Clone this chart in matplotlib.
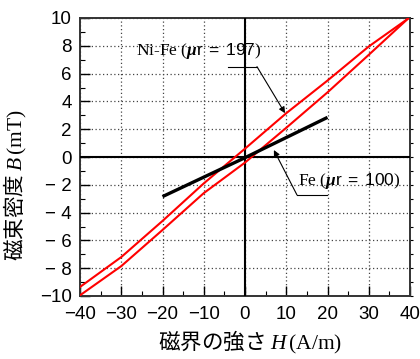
import numpy as np
import matplotlib
matplotlib.use("Agg")
import matplotlib.pyplot as plt
from matplotlib.ticker import MultipleLocator

plt.rcParams.update({
    "font.family": "Liberation Sans",
    "font.size": 13.5,
    "mathtext.fontset": "custom",
    "mathtext.rm": "Liberation Serif",
    "mathtext.it": "Liberation Serif:italic",
    "mathtext.bf": "Liberation Serif:bold",
    "mathtext.bfit": "Liberation Serif:bold:italic",
    "mathtext.sf": "Liberation Sans",
})

# Ni-Fe hysteresis loop: descending and ascending branches
h_down = [39.5, 30, 20, 10, 0, -10, -20, -30, -40]
b_down = [9.95, 7.95, 5.5, 3.15, 0.6, -1.9, -4.6, -7.2, -9.35]
h_up = [-40, -30, -20, -10, 0, 10, 20, 30, 39.5]
b_up = [-9.95, -7.85, -5.25, -2.6, -0.4, 2.1, 4.65, 7.35, 9.95]

# Fe magnetisation line
h_fe = [-20, 0, 20]
b_fe = [-2.85, -0.05, 2.85]

xticks = [-40, -30, -20, -10, 0, 10, 20, 30, 40]
yticks = [-10, -8, -6, -4, -2, 0, 2, 4, 6, 8, 10]


def minus_label(v):
    if v < 0:
        return "\u2212" + (" " if v > -10 else "") + str(-v)
    return str(v)


fig = plt.figure(figsize=(4.2, 3.59), dpi=100)
ax = fig.add_axes([80 / 420, 1 - 296 / 359, 330 / 420, 278 / 359])

ax.plot(h_down, b_down, color="#ff0000", lw=1.5, zorder=4)
ax.plot(h_up, b_up, color="#ff0000", lw=1.5, zorder=4)
ax.plot(h_fe, b_fe, color="black", lw=2.4, solid_capstyle="butt", zorder=5)

ax.axhline(0, color="black", lw=1.5, zorder=3)
ax.axvline(0, color="black", lw=1.5, zorder=3)

ax.set_xlim(-40, 40)
ax.set_ylim(-10, 10)
ax.set_xticks(xticks)
ax.set_xticklabels([minus_label(v) for v in xticks])
ax.set_yticks(yticks)
ax.set_yticklabels([minus_label(v) for v in yticks])
ax.xaxis.set_minor_locator(MultipleLocator(5))
ax.yaxis.set_minor_locator(MultipleLocator(1))
ax.tick_params(which="major", direction="in", length=7, width=1.0, pad=6)
ax.tick_params(which="minor", direction="in", length=3.5, width=0.8)
ax.tick_params(axis="x", which="major", pad=7)
ax.grid(True, which="major", ls=(0, (1, 2)), color="#444444", lw=0.9)
for s in ax.spines.values():
    s.set_linewidth(1.4)
    s.set_color("#333333")

sec = ax.secondary_yaxis("right")
sec.yaxis.set_minor_locator(MultipleLocator(1))
sec.set_yticks(yticks)
sec.set_yticklabels([])
sec.tick_params(which="both", direction="out", length=2.5, width=0.8)
sec.spines["right"].set_visible(False)

ax.set_xlabel("磁界の強さ $H\\,\\mathrm{(A/m)}$", family="Noto Sans CJK JP",
              fontsize=15.5)
ax.xaxis.set_label_coords(0.515, -0.12)
ax.set_ylabel("磁束密度 $B\\,\\mathrm{(mT)}$", family="Noto Sans CJK JP",
              fontsize=15.5)
ax.yaxis.set_label_coords(-0.155, 0.40)

# labels with leader lines
arrow = dict(arrowstyle="-|>", color="black", lw=0.8, mutation_scale=9,
             shrinkA=0, shrinkB=0)
ax.text(-26.4, 7.65, "Ni-Fe ($\\mathbfit{\\mu}\\mathsf{r\\ =\\ 197}$)",
        family="Liberation Serif", fontsize=12.5, ha="left", va="center",
        zorder=6)
ax.plot([-4.1, 2.9], [6.5, 6.5], color="black", lw=0.8, zorder=6)
ax.annotate("", xy=(9.7, 3.15), xytext=(2.9, 6.5), arrowprops=arrow, zorder=6)

ax.text(12.9, -1.7, "Fe ($\\mathbfit{\\mu}\\mathsf{r\\ =\\ 100}$)",
        family="Liberation Serif", fontsize=12.5, ha="left", va="center",
        zorder=6)
ax.plot([12.6, 19.9], [-2.73, -2.73], color="black", lw=0.8, zorder=6)
ax.annotate("", xy=(7.0, 0.5), xytext=(12.6, -2.73), arrowprops=arrow, zorder=6)

fig.savefig("out.png", dpi=100)
